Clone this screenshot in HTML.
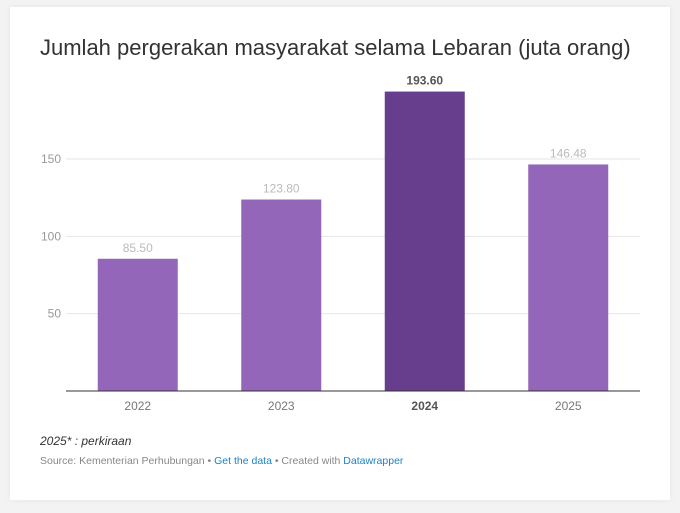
<!DOCTYPE html>
<html><head><meta charset="utf-8"><style>
body{margin:0;width:680px;height:513px;background:#f3f3f3;font-family:"Liberation Sans",sans-serif;overflow:hidden;position:relative}
#card{position:absolute;left:10px;top:7px;width:660px;height:493px;background:#fff;box-shadow:0 0 6px rgba(0,0,0,0.06)}
#title{position:absolute;left:40px;top:35px;font-size:22px;color:#333;white-space:nowrap}
#note{position:absolute;left:40px;top:434px;font-size:12px;font-style:italic;color:#333}
#source{position:absolute;left:40px;top:455px;font-size:10.5px;color:#888}
#source a{color:#1d81c9;text-decoration:none}
svg{position:absolute;left:0;top:0}
</style></head><body>
<div id="card"></div>
<div id="title">Jumlah pergerakan masyarakat selama Lebaran (juta orang)</div>
<svg id="chart" width="680" height="513"></svg>
<div id="note">2025* : perkiraan</div>
<div id="source">Source: Kementerian Perhubungan • <a href="#">Get the data</a> • Created with <a href="#">Datawrapper</a></div>
<script>
const categories=["2022","2023","2024","2025"];
const values=[85.5,123.8,193.6,146.48];
const labels=["85.50","123.80","193.60","146.48"];
const ticks=[50,100,150];
const highlight=[false,false,true,false];
const NS="http://www.w3.org/2000/svg";
const svg=document.getElementById('chart');
const x0=66,x1=640,y0=391,scale=(391-159)/150;
const y=v=>y0-v*scale;
const band=(x1-x0)/categories.length;
const cx=i=>x0+band*(i+0.5);
function mk(t,a){const e=document.createElementNS(NS,t);for(const k in a)e.setAttribute(k,a[k]);svg.appendChild(e);return e;}
ticks.forEach(t=>{
 const g=mk('line',{x1:x0,x2:x1,y1:y(t),y2:y(t),stroke:'#e6e6e6','stroke-width':1});
 
 
 const l=mk('text',{x:61,y:y(t)+4,'text-anchor':'end','font-size':12,fill:'#999'});
 l.textContent=t;
 
 
});
categories.forEach((c,i)=>{
 const w=80;
 const r=mk('rect',{x:cx(i)-w/2,y:y(values[i]),width:w,height:y0-y(values[i]),fill:highlight[i]?'#673e8e':'#9366b9'});
 
 
 const v=mk('text',{x:cx(i),y:y(values[i])-7,'text-anchor':'middle','font-size':12,fill:highlight[i]?'#555':'#bbb','font-weight':highlight[i]?'bold':'normal'});
 v.textContent=labels[i];
 
 
 const t=mk('text',{x:cx(i),y:410,'text-anchor':'middle','font-size':12,fill:highlight[i]?'#555':'#777','font-weight':highlight[i]?'bold':'normal'});
 t.textContent=c;
 
 
});
const base=mk('line',{x1:x0,x2:x1,y1:y0,y2:y0,stroke:'#333','stroke-width':1});


</script>
</body></html>
